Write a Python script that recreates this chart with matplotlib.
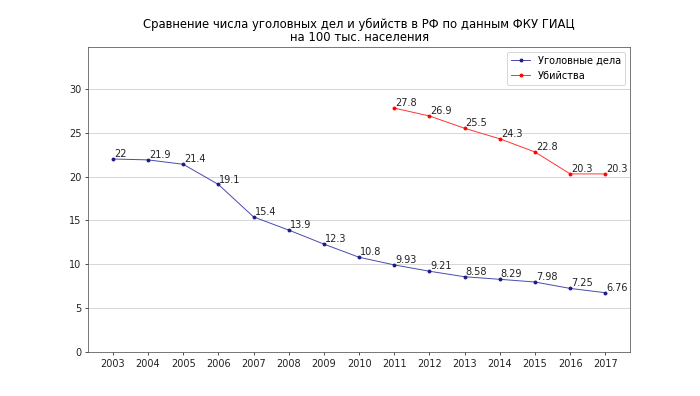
import numpy as np
import matplotlib.pyplot as plt

years = [2003, 2004, 2005, 2006, 2007, 2008, 2009, 2010,
         2011, 2012, 2013, 2014, 2015, 2016, 2017]
ugolovnye = [22, 21.9, 21.4, 19.1, 15.4, 13.9, 12.3, 10.8,
             9.93, 9.21, 8.58, 8.29, 7.98, 7.25, 6.76]
years_ub = [2011, 2012, 2013, 2014, 2015, 2016, 2017]
ubiystva = [27.8, 26.9, 25.5, 24.3, 22.8, 20.3, 20.3]

fig = plt.figure(figsize=(10, 396 / 70), dpi=70)
ax = fig.add_axes([0.126, 0.111, 0.774, 0.770])

ax.plot(years, ugolovnye, color='#4a4ab0', lw=1, marker='o', ms=3,
        mfc='#1a1a80', mec='#1a1a80', label='Уголовные дела')
ax.plot(years_ub, ubiystva, color='#ff3333', lw=1, marker='o', ms=3,
        mfc='red', mec='red', label='Убийства')

for x, y in zip(years, ugolovnye):
    ax.annotate(str(y), (x, y), xytext=(1, 2), textcoords='offset points',
                color='#222222')
for x, y in zip(years_ub, ubiystva):
    ax.annotate(str(y), (x, y), xytext=(1, 2), textcoords='offset points',
                color='#222222')

ax.set_xticks(years)
ax.set_ylim(0, max(ubiystva) * 1.25)
ax.set_yticks([0, 5, 10, 15, 20, 25, 30])
ax.grid(axis='y', color='#cccccc', lw=0.8)
ax.set_axisbelow(True)
for s in ax.spines.values():
    s.set_color('#555555')
ax.tick_params(colors='#222222')

ax.set_title('Сравнение числа уголовных дел и убийств в РФ по данным ФКУ ГИАЦ\nна 100 тыс. населения',
             fontsize=12, linespacing=1.0)
ax.legend(loc='upper right')

fig.savefig('out.png')
